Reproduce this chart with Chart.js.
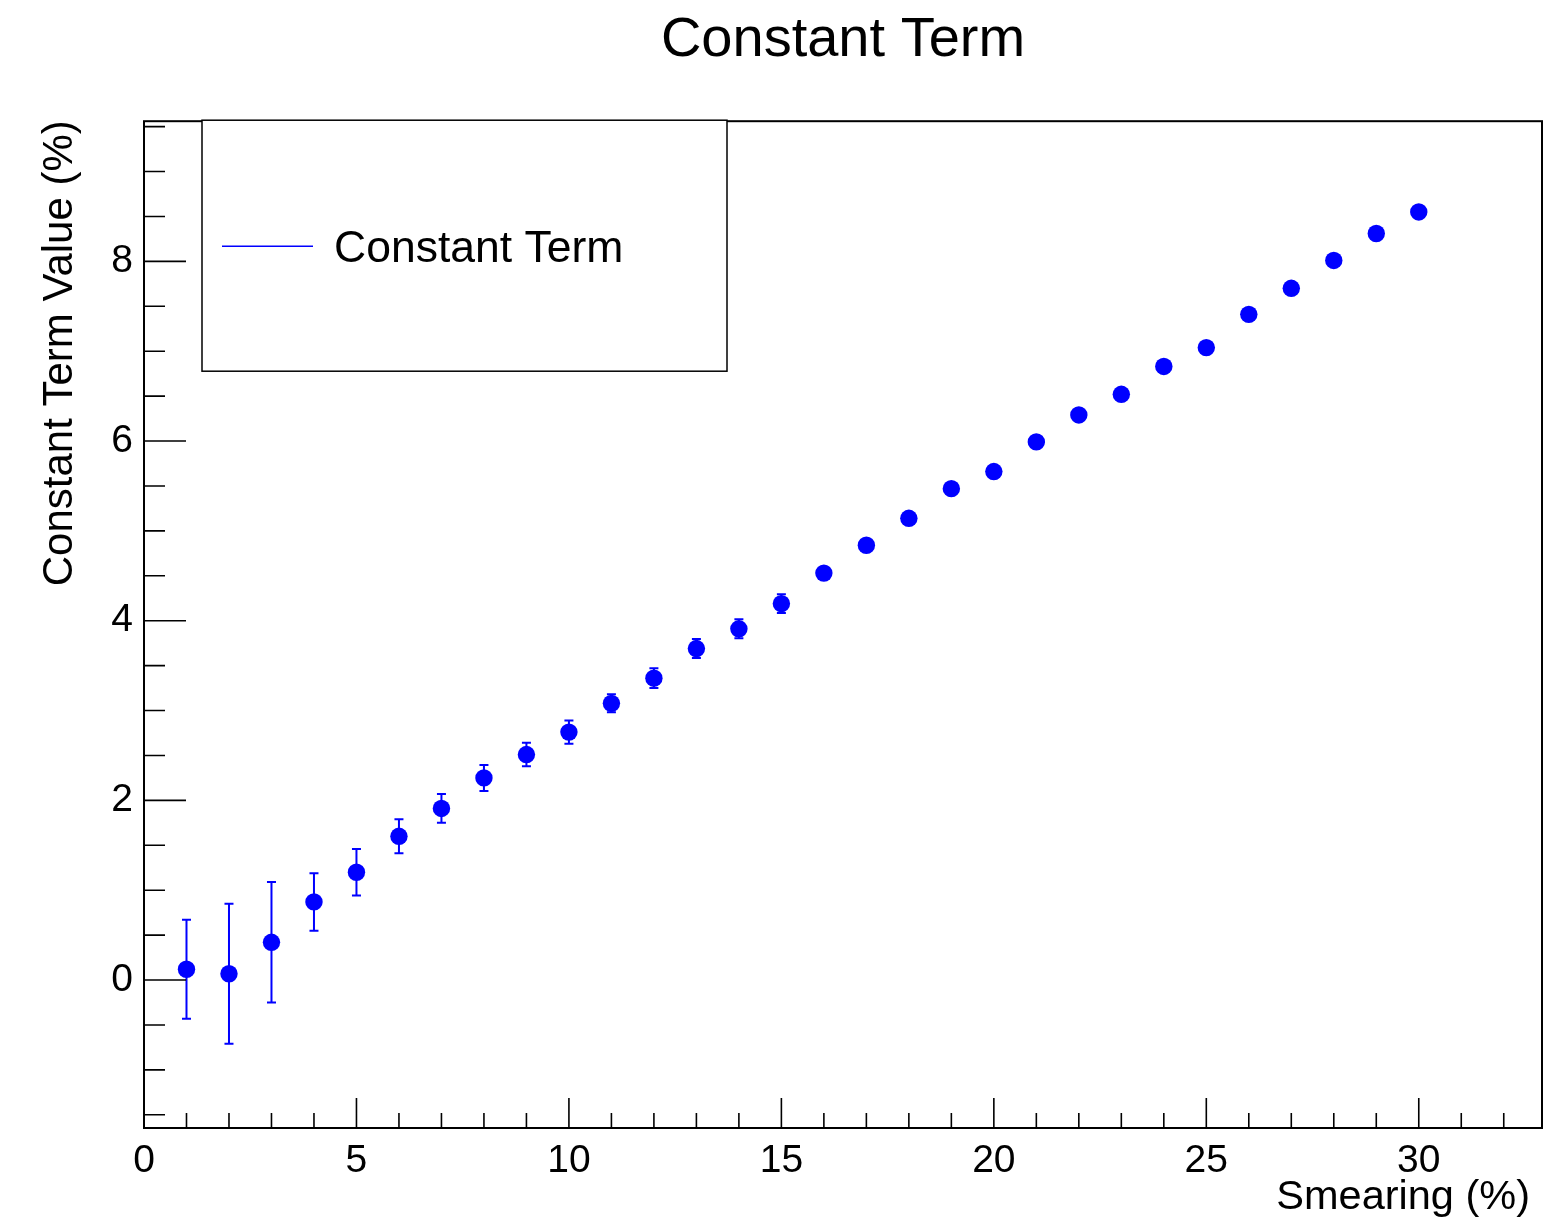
<!DOCTYPE html>
<html>
<head>
<meta charset="utf-8">
<title>Constant Term</title>
<script src="https://cdn.jsdelivr.net/npm/chart.js@4.4.0/dist/chart.umd.min.js"></script>
<style>
  html, body { margin: 0; padding: 0; background: #ffffff; }
  #wrap { width: 1562px; height: 1220px; }
  canvas { display: block; }
</style>
</head>
<body>
<div id="wrap"><canvas id="chart" width="1562" height="1220"></canvas></div>
<script>
// Smearing applied (%) and the fitted constant term (%) with its uncertainty
const smearing = [1, 2, 3, 4, 5, 6, 7, 8, 9, 10, 11, 12, 13, 14, 15,
                  16, 17, 18, 19, 20, 21, 22, 23, 24, 25, 26, 27, 28, 29, 30];
const constantTerm = [0.12, 0.07, 0.42, 0.87, 1.20, 1.60, 1.91, 2.25, 2.51, 2.76,
                      3.08, 3.36, 3.69, 3.91, 4.19, 4.53, 4.84, 5.14, 5.47, 5.66,
                      5.99, 6.29, 6.52, 6.83, 7.04, 7.41, 7.70, 8.01, 8.31, 8.55];
const constantTermErr = [0.55, 0.78, 0.67, 0.32, 0.26, 0.19, 0.16, 0.145, 0.13, 0.13,
                         0.10, 0.11, 0.105, 0.105, 0.105, 0.09, 0.09, 0.085, 0.085, 0.08,
                         0.08, 0.08, 0.075, 0.075, 0.075, 0.07, 0.07, 0.07, 0.07, 0.065];
const xTickValues = [0, 5, 10, 15, 20, 25, 30];
const yTickValues = [0, 2, 4, 6, 8];

const xRange = [0, 32.9];
const yRange = [-1.647, 9.56];

const FONT = "'Liberation Sans', Arial, Helvetica, sans-serif";
const MARKER_RADIUS = 8.7;

// Frame, inward tick marks, error bars, axis titles and the boxed legend
const rootStyle = {
  id: 'rootStyle',
  beforeDatasetsDraw(chart) {
    const ctx = chart.ctx;
    const xs = chart.scales.x, ys = chart.scales.y;
    const ds = chart.data.datasets[0];
    ctx.save();
    ctx.strokeStyle = '#0000ff';
    ctx.lineWidth = 2;
    ds.data.forEach((p, i) => {
      const e = constantTermErr[i];
      const px = xs.getPixelForValue(p.x);
      const py = ys.getPixelForValue(p.y);
      const top = ys.getPixelForValue(p.y + e);
      const bot = ys.getPixelForValue(p.y - e);
      if (py - top <= MARKER_RADIUS) return;
      ctx.beginPath();
      ctx.moveTo(px, top); ctx.lineTo(px, bot);
      ctx.moveTo(px - 4.5, top); ctx.lineTo(px + 4.5, top);
      ctx.moveTo(px - 4.5, bot); ctx.lineTo(px + 4.5, bot);
      ctx.stroke();
    });
    ctx.restore();
  },
  afterDatasetsDraw(chart) {
    const ctx = chart.ctx;
    const a = chart.chartArea;
    const xs = chart.scales.x, ys = chart.scales.y;
    ctx.save();
    ctx.strokeStyle = '#000000';
    ctx.lineWidth = 1.6;
    ctx.beginPath();
    // x ticks: major every 5, minor every 1
    for (let v = Math.ceil(xs.min); v <= xs.max; v += 1) {
      const px = xs.getPixelForValue(v);
      const len = (v % 5 === 0) ? 30 : 15;
      ctx.moveTo(px, a.bottom); ctx.lineTo(px, a.bottom - len);
    }
    // y ticks: major every 2, minor every 0.5
    for (let k = Math.ceil(ys.min * 2); k / 2 <= ys.max; k += 1) {
      const v = k / 2;
      const py = ys.getPixelForValue(v);
      const len = (k % 4 === 0) ? 42 : 21;
      ctx.moveTo(a.left, py); ctx.lineTo(a.left + len, py);
    }
    ctx.stroke();
    // frame
    ctx.lineWidth = 2;
    ctx.strokeRect(a.left, a.top, a.right - a.left, a.bottom - a.top);
    ctx.restore();
  },
  afterDraw(chart) {
    const ctx = chart.ctx;
    const a = chart.chartArea;
    const ds = chart.data.datasets[0];
    ctx.save();
    ctx.fillStyle = '#000000';
    // axis titles
    ctx.font = '41.5px ' + FONT;
    ctx.textAlign = 'right';
    ctx.textBaseline = 'alphabetic';
    ctx.fillText('Smearing (%)', a.right - 12, 1209);
    ctx.save();
    ctx.translate(72, a.top - 1);
    ctx.rotate(-Math.PI / 2);
    ctx.font = '42px ' + FONT;
    ctx.textAlign = 'right';
    ctx.fillText('Constant Term Value (%)', 0, 0);
    ctx.restore();

    // legend box
    const lx = a.left + 58, ly = a.top - 1, lw = 525, lh = 251;
    ctx.fillStyle = '#ffffff';
    ctx.fillRect(lx, ly, lw, lh);
    ctx.strokeStyle = '#000000';
    ctx.lineWidth = 1.5;
    ctx.strokeRect(lx, ly, lw, lh);
    ctx.strokeStyle = '#0000ff';
    ctx.lineWidth = 1.6;
    ctx.beginPath();
    ctx.moveTo(lx + 20, ly + 126); ctx.lineTo(lx + 111, ly + 126);
    ctx.stroke();
    ctx.fillStyle = '#000000';
    ctx.font = '44.5px ' + FONT;
    ctx.textAlign = 'left';
    ctx.textBaseline = 'middle';
    ctx.fillText(ds.label, lx + 132, ly + 130);
    ctx.restore();
  }
};

const points = smearing.map((x, i) => ({ x: x, y: constantTerm[i] }));

new Chart(document.getElementById('chart'), {
  type: 'scatter',
  data: {
    datasets: [{
      label: 'Constant Term',
      data: points,
      backgroundColor: '#0000ff',
      borderColor: '#0000ff',
      borderWidth: 0,
      pointRadius: MARKER_RADIUS,
      pointHoverRadius: MARKER_RADIUS,
      showLine: false
    }]
  },
  options: {
    responsive: false,
    animation: false,
    devicePixelRatio: 1,
    layout: { padding: { top: 1, right: 20, left: 0, bottom: 0 } },
    plugins: {
      legend: { display: false },
      tooltip: { enabled: false },
      title: {
        display: true,
        text: 'Constant Term',
        fullSize: false,
        color: '#000000',
        font: { family: FONT, size: 56, weight: 'normal', lineHeight: 1.2 },
        padding: { top: 6, bottom: 47 }
      }
    },
    scales: {
      x: {
        type: 'linear',
        min: xRange[0],
        max: xRange[1],
        grid: { display: false, drawTicks: false },
        border: { display: false },
        afterBuildTicks: (s) => { s.ticks = xTickValues.map(v => ({ value: v })); },
        afterFit: (s) => { s.height = 92; },
        ticks: {
          color: '#000000',
          font: { family: FONT, size: 39 },
          padding: 10,
          maxRotation: 0,
          autoSkip: false
        }
      },
      y: {
        type: 'linear',
        min: yRange[0],
        max: yRange[1],
        grid: { display: false, drawTicks: false },
        border: { display: false },
        afterBuildTicks: (s) => { s.ticks = yTickValues.map(v => ({ value: v })); },
        afterFit: (s) => { s.width = 144; },
        ticks: {
          color: '#000000',
          font: { family: FONT, size: 39 },
          padding: 11,
          autoSkip: false
        }
      }
    }
  },
  plugins: [rootStyle]
});
</script>
</body>
</html>
